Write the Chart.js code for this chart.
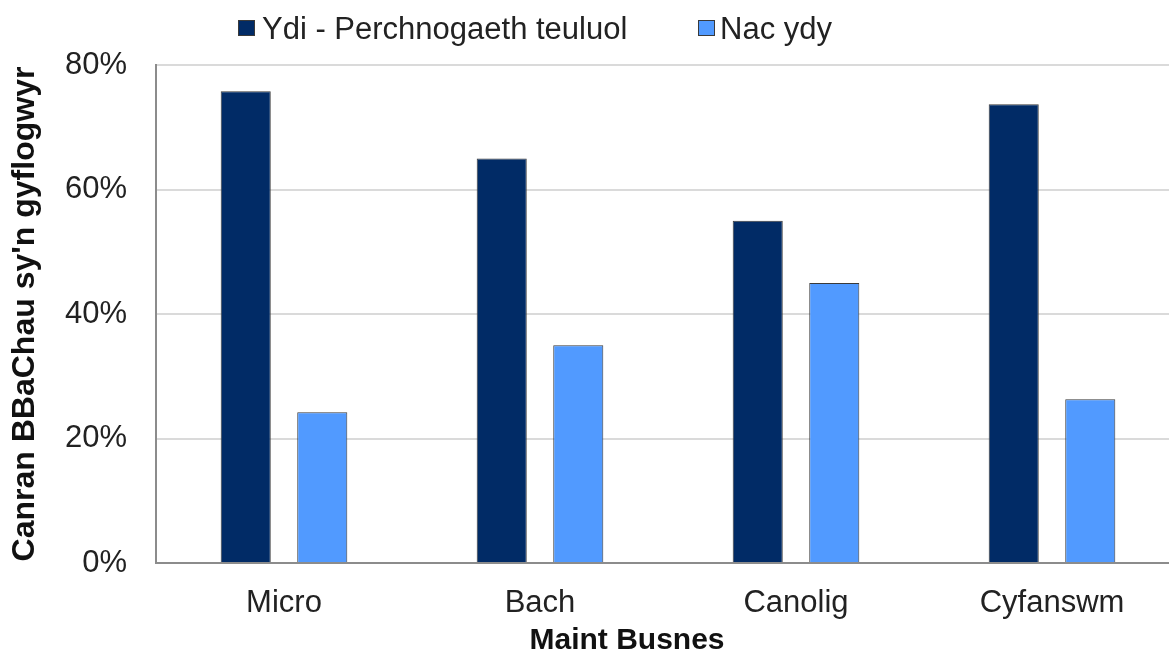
<!DOCTYPE html>
<html>
<head>
<meta charset="utf-8">
<script src="https://cdn.jsdelivr.net/npm/chart.js@4"></script>
<style>
html,body{margin:0;padding:0;overflow:hidden;background:#fff;}
#wrap{position:absolute;left:0;top:0;width:1181px;height:652px;}
</style>
</head>
<body>
<div id="wrap"><canvas id="c" width="1181" height="652"></canvas></div>
<script>
const categories = ['Micro', 'Bach', 'Canolig', 'Cyfanswm'];
const seriesNames = ['Ydi - Perchnogaeth teuluol', 'Nac ydy'];
const familyOwned = [75.8, 65.0, 55.0, 73.7];
const notFamily = [24.2, 35.0, 45.0, 26.3];
const yTicks = [0, 20, 40, 60, 80];
const yTitle = "Canran BBaChau sy'n gyflogwyr";
const xTitle = 'Maint Busnes';

const FONT = "'Liberation Sans', Arial, sans-serif";

const customText = {
  id: 'customText',
  afterDraw(chart) {
    const ctx = chart.ctx;
    ctx.save();
    const items = [
      {box: 238, text: 262, color: chart.data.datasets[0].backgroundColor, label: chart.data.datasets[0].label},
      {box: 698, text: 720, color: chart.data.datasets[1].backgroundColor, label: chart.data.datasets[1].label}
    ];
    ctx.font = '31px ' + FONT;
    ctx.textBaseline = 'alphabetic';
    ctx.textAlign = 'left';
    items.forEach(it => {
      ctx.fillStyle = it.color;
      ctx.fillRect(it.box, 20, 17, 16);
      ctx.strokeStyle = '#3a3a3a';
      ctx.lineWidth = 1;
      ctx.strokeRect(it.box + 0.5, 20.5, 16, 15);
      ctx.fillStyle = '#222';
      ctx.fillText(it.label, it.text, 39);
    });
    ctx.font = 'bold 30px ' + FONT;
    ctx.fillStyle = '#111';
    ctx.textAlign = 'center';
    ctx.fillText(xTitle, 627, 649);
    ctx.restore();
  }
};

new Chart(document.getElementById('c'), {
  type: 'bar',
  data: {
    labels: categories,
    datasets: [
      {label: seriesNames[0], data: familyOwned, backgroundColor: '#012b66', borderColor: '#3a3a3a', borderWidth: 1},
      {label: seriesNames[1], data: notFamily, backgroundColor: '#519aff', borderColor: '#3a3a3a', borderWidth: 1}
    ]
  },
  options: {
    responsive: false,
    devicePixelRatio: 1,
    animation: false,
    categoryPercentage: 0.598,
    barPercentage: 0.654,
    layout: {padding: {top: 65, right: 1, left: 0, bottom: 0}},
    plugins: {legend: {display: false}, tooltip: {enabled: false}, title: {display: false}},
    scales: {
      x: {
        grid: {display: true, color: 'transparent', drawTicks: false},
        border: {display: true, color: '#8c8c8c', width: 2},
        ticks: {padding: 22, color: '#222', font: {family: FONT, size: 31}, autoSkip: false, maxRotation: 0},
        afterFit(scale) { scale.height = 89; }
      },
      y: {
        min: 0, max: 80,
        afterBuildTicks(scale) { scale.ticks = yTicks.map(v => ({value: v})); },
        ticks: {padding: 29, color: '#222', font: {family: FONT, size: 31}, callback: v => v + '%'},
        grid: {drawTicks: false, lineWidth: 2, color: ctx => (ctx.tick && ctx.tick.value === 0) ? 'transparent' : '#dadada'},
        border: {display: true, color: '#8c8c8c', width: 2},
        title: {display: true, text: yTitle, color: '#111', font: {family: FONT, size: 32, weight: 'bold'}, padding: {top: 6, bottom: 0}},
        afterFit(scale) { scale.width = 156; }
      }
    }
  },
  plugins: [customText]
});
</script>
</body>
</html>
